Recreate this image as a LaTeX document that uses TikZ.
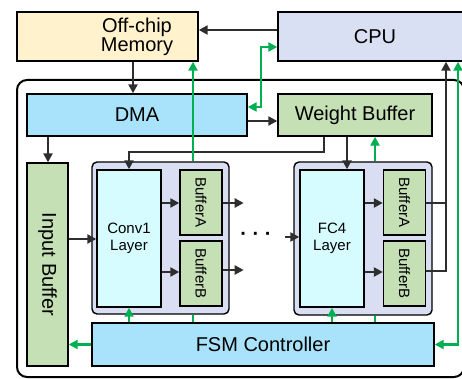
\documentclass[tikz,border=0pt]{standalone}
\usepackage{fontspec}
\setmainfont{Liberation Sans}
\usepackage{graphicx}
\usetikzlibrary{arrows.meta}
\definecolor{memfill}{HTML}{FFF2CC}
\definecolor{cpufill}{HTML}{DAE0F3}
\definecolor{dmafill}{HTML}{A9E2FB}
\definecolor{buffill}{HTML}{C5E0B4}
\definecolor{layfill}{HTML}{D7FCFF}
\definecolor{grpfill}{HTML}{D9DEF3}
\definecolor{busgray}{HTML}{2E2E2E}
\definecolor{ctrlgreen}{HTML}{00B050}
\begin{document}
\begin{tikzpicture}[x=1pt, y=-1pt, >={Triangle[length=9pt,width=9pt]},
  every node/.style={font=\fontsize{20}{19}\selectfont},
  box/.style={draw=black, line width=1.4pt, inner sep=0pt},
  small/.style={font=\fontsize{15}{17}\selectfont},
  grp/.style={box, fill=grpfill, rounded corners=5pt},
  bus/.style={line width=2.4pt, draw=busgray},
  ctrl/.style={line width=2.4pt, draw=ctrlgreen}]
  \useasboundingbox (0,0) rectangle (462,379);
  % off-chip side
  \node[box, fill=memfill, minimum width=181pt, minimum height=49pt] (mem) at (107.5,36.5) {};
  \node[align=center] (memtext) at (137,37) {Off-chip\\Memory};
  \node[box, fill=cpufill, minimum width=194pt, minimum height=49pt] (cpu) at (375,36.5) {CPU};
  % chip
  \draw[line width=2pt, rounded corners=10pt] (17,80) rectangle (464,377);
  \node[box, fill=dmafill, minimum width=220pt, minimum height=42pt] (dma) at (137,115) {DMA};
  \node[box, fill=buffill, minimum width=154pt, minimum height=42pt] (wbuf) at (355,115) {Weight Buffer};
  \node[box, fill=buffill, minimum width=41pt, minimum height=203pt] (inbuf) at (47.5,264.5) {\rotatebox{-90}{Input Buffer}};
  \node[grp, minimum width=137pt, minimum height=152pt] (g1) at (160.5,238) {};
  \node[grp, minimum width=138pt, minimum height=153pt] (g2) at (363,238.5) {};
  \node[box, small, fill=layfill, minimum width=64pt, minimum height=137pt, align=center] (lay1) at (129,238.5) {Conv1\\Layer};
  \node[box, small, fill=layfill, minimum width=64pt, minimum height=137pt, align=center] (lay2) at (332,238.5) {FC4\\Layer};
  \foreach \i/\x in {1/201,2/404.5} {
    \node[box, small, fill=buffill, minimum width=42pt, minimum height=65pt] (bufA\i) at (\x,202.5) {\rotatebox{-90}{BufferA}};
    \node[box, small, fill=buffill, minimum width=42pt, minimum height=65pt] (bufB\i) at (\x,273.5) {\rotatebox{-90}{BufferB}};
  }
  \node[box, fill=dmafill, minimum width=342pt, minimum height=43pt] (fsm) at (263,344.5) {FSM Controller};
  \node[font=\fontsize{20}{20}\selectfont\bfseries] (dots) at (256,236) {·~·~·};
  % data paths
  \draw[bus,->] (cpu.west |- 0,30) -- (mem.east |- 0,30);
  \draw[bus,->] (133,0 |- mem.south) -- (133,0 |- dma.north);
  \draw[bus,->] (48,0 |- dma.south) -- (48,0 |- inbuf.north);
  \draw[bus,->] (dma.east |- 0,121) -- (wbuf.west |- 0,121);
  \draw[bus,->] (347,0 |- wbuf.south) -- (347,0 |- lay2.north);
  \draw[bus,->] (324,0 |- wbuf.south) |- (129,152) -- (129,0 |- lay1.north);
  \draw[bus,->] (0,239 -| inbuf.east) -- (0,239 -| lay1.west);
  \foreach \i in {1,2} {
    \draw[bus,->] (lay\i.east |- 0,203) -- (bufA\i.west |- 0,203);
    \draw[bus,->] (lay\i.east |- 0,272) -- (bufB\i.west |- 0,272);
  }
  \draw[bus,->] (bufA1.east |- 0,203) -- ++(21,0);
  \draw[bus,->] (bufB1.east |- 0,270) -- ++(21,0);
  \draw[bus,->, shorten <=10pt] (dots.east |- 0,237) -- (lay2.west |- 0,237);
  \draw[bus] (bufB2.east |- 0,271) -| (446,203);
  \draw[bus,->] (bufA2.east |- 0,203) -| (446,0 |- cpu.south);
  % control paths
  \draw[ctrl,<->] (cpu.west |- 0,47) -| (261,107) -- (dma.east |- 0,107);
  \draw[ctrl,->] (193,0 |- g1.north) -- (193,0 |- mem.south);
  \draw[ctrl,->] (375,0 |- g2.north) -- (375,0 |- wbuf.south);
  \draw[ctrl] (193,0 |- fsm.north) -- (193,0 |- g1.south);
  \draw[ctrl] (375,0 |- fsm.north) -- (375,0 |- g2.south);
  \draw[ctrl,->] (129,0 |- fsm.north) -- (129,0 |- lay1.south);
  \draw[ctrl,->] (332,0 |- fsm.north) -- (332,0 |- lay2.south);
  \draw[ctrl,->] (fsm.west) -- (fsm.west -| inbuf.east);
  \draw[ctrl,<->] (fsm.east) -| (458,0 |- cpu.south);
\end{tikzpicture}
\end{document}
